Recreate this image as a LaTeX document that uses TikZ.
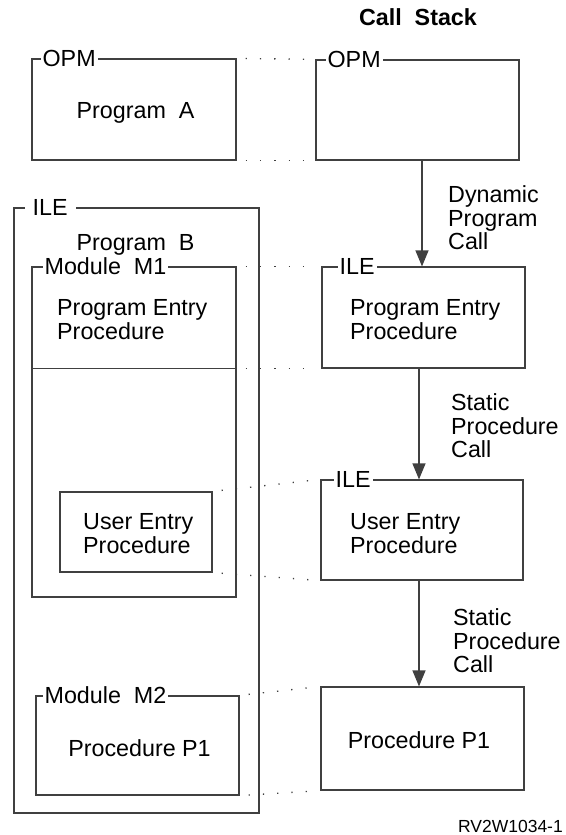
\documentclass[tikz,border=0pt]{standalone}
\usepackage{fontspec}
\setmainfont{Liberation Sans}
\usetikzlibrary{arrows.meta}
\newcommand{\fsmain}{\fontsize{23.3}{23.5}\selectfont}
\newcommand{\fssmall}{\fontsize{17.5}{20}\selectfont}
\definecolor{linec}{gray}{0.25}
\begin{document}
\begin{tikzpicture}[x=1pt,y=-1pt,
  box/.style={draw=linec, line width=1.2pt, inner sep=0pt},
  tag/.style={fill=white, inner xsep=2pt, inner ysep=1pt, anchor=west, font=\fsmain},
  txt/.style={inner sep=0pt, font=\fsmain},
  mtxt/.style={inner sep=0pt, font=\fsmain, align=left, anchor=north west},
  dots/.style={draw=linec, line width=1.3pt, dash pattern=on 1.3pt off 13pt, shorten <=9pt, shorten >=8pt},
  arr/.style={draw=linec, line width=1.2pt, -{Triangle[width=13pt,length=16pt]}}]
\useasboundingbox (0,0) rectangle (565,835);

% title
\node[txt, anchor=base, font=\fsmain\bfseries] (title) at (418,25) {Call\ \ Stack};

% left side boxes
\node[box, minimum width=204pt, minimum height=101pt] (opmA) at (134,109.5) {};
\node[box, minimum width=245pt, minimum height=605pt] (ileB) at (136.5,510.5) {};
\node[box, minimum width=204pt, minimum height=330pt] (m1) at (134,432) {};
\node[box, minimum width=152pt, minimum height=80pt] (uepL) at (136,532) {};
\node[box, minimum width=203pt, minimum height=99pt] (m2) at (137.5,745.5) {};

% right side boxes (call stack)
\node[box, minimum width=203pt, minimum height=100pt] (opmS) at (417.5,110) {};
\node[box, minimum width=203pt, minimum height=101pt] (pep) at (423.5,317.5) {};
\node[box, minimum width=202pt, minimum height=100pt] (uepR) at (422,530) {};
\node[box, minimum width=203pt, minimum height=103pt] (p1) at (422.5,738.5) {};

% divider of module M1
\draw[draw=linec, line width=1.2pt] (m1.west |- pep.south) -- (m1.east |- pep.south);

% box tags
\node[tag] (tagOPMa) at ([xshift=9pt]opmA.north west) {OPM};
\node[tag] (tagOPMs) at ([xshift=10pt]opmS.north west) {OPM\hspace{4pt}};
\node[tag, inner xsep=8pt] (tagILEb) at ([xshift=11pt]ileB.north west) {ILE};
\node[tag] (tagM1) at ([xshift=11pt]m1.north west) {Module\ \ M1};
\node[tag] (tagM2) at ([xshift=7pt]m2.north west) {Module\ \ M2};
\node[tag] (tagILEp) at ([xshift=16pt]pep.north west) {ILE};
\node[tag] (tagILEu) at ([xshift=13pt]uepR.north west) {ILE};

% texts
\node[txt, anchor=base] (tProgA) at (135.5,118.5) {Program\ \ A};
\node[txt, anchor=base] (tProgB) at (135.5,250) {Program\ \ B};
\node[mtxt] (tPEPl) at (57,299.5) {Program Entry\\Procedure};
\node[mtxt] (tUEPl) at (83,513.5) {User Entry\\Procedure};
\node[txt, anchor=base] (tP1l) at (139.5,756) {Procedure P1};
\node[mtxt] (tPEPr) at (350,299.5) {Program Entry\\Procedure};
\node[mtxt] (tUEPr) at (350,513.5) {User Entry\\Procedure};
\node[txt, anchor=base] (tP1r) at (419,748) {Procedure P1};

% call labels
\node[mtxt] (lDyn) at (448,185.5) {Dynamic\\Program\\Call};
\node[mtxt] (lSt1) at (451,393.5) {Static\\Procedure\\Call};
\node[mtxt] (lSt2) at (453,608.5) {Static\\Procedure\\Call};

% figure id
\node[txt, anchor=base east, font=\fssmall] (figid) at (563,832) {RV2W1034-1};

% arrows
\draw[arr] ([xshift=-1.5pt]pep.north |- opmS.south) -- ([xshift=-1.5pt]pep.north);
\draw[arr] ([xshift=-3pt]uepR.north |- pep.south) -- ([xshift=-3pt]uepR.north);
\draw[arr] ([xshift=-3.5pt]p1.north |- uepR.south) -- ([xshift=-3.5pt]p1.north);

% dotted correspondences
\draw[dots] (opmA.north east) -- (opmS.north west);
\draw[dots] (opmA.south east) -- (opmS.south west);
\draw[dots] (m1.north east) -- (pep.north west);
\draw[dots] (m1.east |- pep.south) -- (pep.south west);
\draw[dots] (uepL.north east) -- (uepR.north west);
\draw[dots] (uepL.south east) -- (uepR.south west);
\draw[dots] (m2.north east) -- (p1.north west);
\draw[dots] (m2.south east) -- (p1.south west);
\end{tikzpicture}
\end{document}
